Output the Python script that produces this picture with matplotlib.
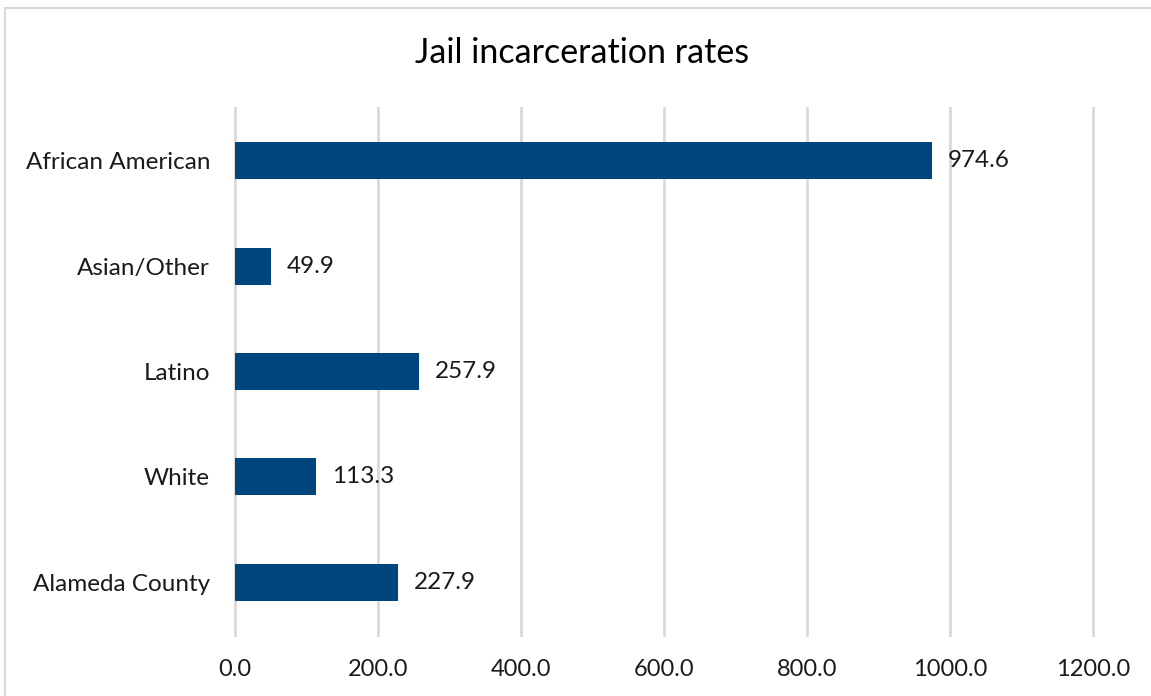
import matplotlib
matplotlib.use('Agg')
import matplotlib.pyplot as plt
from matplotlib.patches import Rectangle

categories = ['African American', 'Asian/Other', 'Latino', 'White', 'Alameda County']
rates = [974.6, 49.9, 257.9, 113.3, 227.9]
xticks = [0, 200, 400, 600, 800, 1000, 1200]

plt.rcParams['font.family'] = ['Lato', 'DejaVu Sans']

fig = plt.figure(figsize=(11.51, 6.96), dpi=100)
W, H = 1151, 696

# chart border (light gray, runs off right and bottom)
fig.patches.append(Rectangle((5 / W, -1), 2, 2 - 8 / H, transform=fig.transFigure,
                             fill=False, edgecolor='#d9d9d9', linewidth=1.5))

ax = fig.add_axes([235 / W, 1 - 635 / H, (1093 - 235) / W, (635 - 108) / H])
ypos = list(range(len(categories)))
ax.barh(ypos, rates, height=0.35, color='#00467c', zorder=3)
ax.set_yticks(ypos)
ax.set_yticklabels(categories, fontsize=17.5, color='#1a1a1a')
ax.set_ylim(len(categories) - 0.5, -0.5)
ax.set_xlim(0, 1200)
ax.set_xticks(xticks)
ax.set_xticklabels(['%.1f' % t for t in xticks], fontsize=17, color='#1a1a1a')
ax.tick_params(axis='both', length=0)
ax.tick_params(axis='x', pad=17)
ax.tick_params(axis='y', pad=18)
ax.grid(axis='x', color='#d9d9d9', linewidth=2, zorder=0)
for gl in ax.get_xgridlines():
    gl.set_clip_on(False)
for s in ax.spines.values():
    s.set_visible(False)

for y, v in zip(ypos, rates):
    ax.text(v + 22, y, '%.1f' % v, va='center', ha='left', fontsize=17.5, color='#1a1a1a')

fig.text(582 / W, 1 - 53 / H, 'Jail incarceration rates', ha='center', va='center',
         fontsize=24.5, color='#000000')

fig.savefig('out.png', dpi=100)
